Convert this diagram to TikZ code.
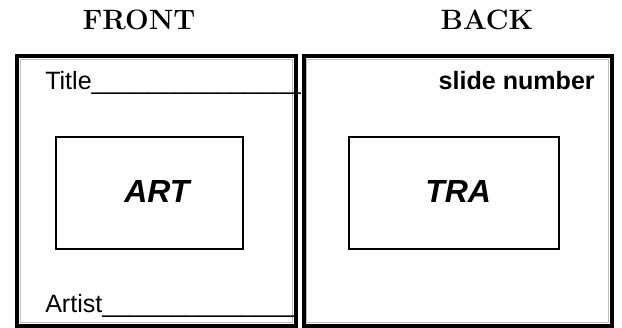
\documentclass[tikz,border=0pt]{standalone}
\usepackage{fontspec}
\usepackage{xcolor}
\usepackage{tikz}
\newfontfamily\arial{Liberation Sans}
\tikzset{
  frameline/.style={line width=3pt},
  frameshade/.style={line width=0.75pt,draw=black!25},
  artbox/.style={line width=1.5pt},
  sidelabel/.style={inner sep=0pt,anchor=base west,font=\arial\fontsize{18.8}{22}\selectfont},
  boxlabel/.style={inner sep=0pt,anchor=base west,font=\arial\bfseries\itshape\fontsize{24}{28}\selectfont},
  headlabel/.style={inner sep=0pt,anchor=base,font=\bfseries\fontsize{21}{25}\selectfont}
}
\begin{document}
\begin{tikzpicture}[x=0.75pt,y=0.75pt,yscale=-1,xscale=1]
	\useasboundingbox (0,0) rectangle (622,328);
	
	%Shape: Rectangle [front frame]
	\draw [frameshade] (20,60) rectangle (292.5,322.5) ;
	\draw [frameline] (16.5,56) rectangle (296,326) ;
	%Shape: Rectangle [back frame]
	\draw [frameshade] (306.5,60) rectangle (608.5,322.5) ;
	\draw [frameline] (304,56) rectangle (612,326) ;
	%Shape: Rectangle [art box]
	\draw [artbox] (56,137) rectangle (243,249) ;
	%Shape: Rectangle [tra box]
	\draw [artbox] (349,137) rectangle (559,249) ;
	
	% Text Node
	\node [headlabel] (front) at (139,30) {FRONT};
	% Text Node
	\node [headlabel] (back) at (487,30) {BACK};
	% Text Node
	\node [sidelabel] (title) at (45,90) {Title\_\_\_\_\_\_\_\_\_\_\_\_\_\_\_};
	% Text Node
	\node [sidelabel] (artist) at (45,312) {Artist\_\_\_\_\_\_\_\_\_\_\_\_\_\_};
	% Text Node
	\node [sidelabel,anchor=base east,font=\arial\bfseries\fontsize{18.8}{22}\selectfont] (slidenum) at (595,90) {slide number};
	% Text Node
	\node [boxlabel] (art) at (124,202) {ART};
	% Text Node
	\node [boxlabel] (tra) at (425,202) {TRA};
\end{tikzpicture}
\end{document}
